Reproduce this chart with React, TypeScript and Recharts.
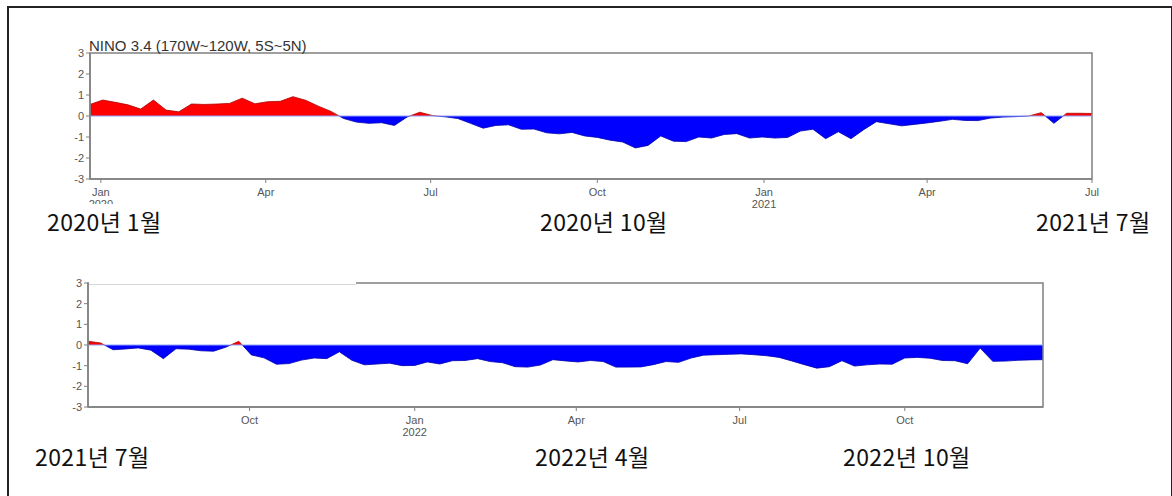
import { AreaChart, Area, XAxis, YAxis, ReferenceLine, ReferenceArea } from 'recharts';

const DAY = 86400000;
const WEEK = 7 * DAY;

// weekly Nino 3.4 anomalies, first panel starts 2019-12-26
const p1Start = Date.UTC(2019, 11, 26);
const p1Values = [
  0.55, 0.76, 0.65, 0.53, 0.33, 0.76, 0.28, 0.2, 0.57, 0.55,
  0.57, 0.6, 0.85, 0.58, 0.68, 0.7, 0.92, 0.75, 0.47, 0.22,
  -0.12, -0.29, -0.35, -0.32, -0.45, -0.05, 0.18, 0.02, -0.04, -0.12,
  -0.35, -0.58, -0.45, -0.42, -0.63, -0.62, -0.8, -0.85, -0.78, -0.95,
  -1.02, -1.15, -1.24, -1.52, -1.4, -0.95, -1.2, -1.22, -1.0, -1.05,
  -0.88, -0.84, -1.05, -1.0, -1.05, -1.02, -0.72, -0.63, -1.08, -0.75,
  -1.08, -0.65, -0.27, -0.37, -0.47, -0.4, -0.33, -0.25, -0.16, -0.21,
  -0.22, -0.1, -0.05, -0.03, 0.0, 0.16, -0.35, 0.13, 0.13, 0.12,
];

// second panel starts 2021-07-03
const p2Start = Date.UTC(2021, 6, 3);
const p2Values = [
  0.18, 0.1, -0.23, -0.19, -0.14, -0.25, -0.66, -0.18, -0.2, -0.28,
  -0.3, -0.1, 0.18, -0.48, -0.62, -0.93, -0.9, -0.73, -0.63, -0.66,
  -0.33, -0.74, -0.96, -0.92, -0.88, -1.0, -0.99, -0.82, -0.92, -0.76,
  -0.75, -0.66, -0.8, -0.86, -1.05, -1.07, -0.97, -0.71, -0.77, -0.82,
  -0.75, -0.8, -1.07, -1.07, -1.06, -0.95, -0.8, -0.84, -0.63, -0.49,
  -0.47, -0.45, -0.43, -0.47, -0.52, -0.6, -0.77, -0.95, -1.12, -1.05,
  -0.76, -1.02, -0.96, -0.92, -0.93, -0.63, -0.6, -0.64, -0.75, -0.76,
  -0.91, -0.15, -0.79, -0.78, -0.74, -0.72, -0.71,
];

const yTicks = [-3, -2, -1, 0, 1, 2, 3];
const p1Ticks = [
  Date.UTC(2020, 0, 1), Date.UTC(2020, 3, 1), Date.UTC(2020, 6, 1), Date.UTC(2020, 9, 1),
  Date.UTC(2021, 0, 1), Date.UTC(2021, 3, 1), Date.UTC(2021, 6, 1),
];
const p2Ticks = [
  Date.UTC(2021, 9, 1), Date.UTC(2022, 0, 1), Date.UTC(2022, 3, 1),
  Date.UTC(2022, 6, 1), Date.UTC(2022, 9, 1),
];
const MONTHS = ['Jan', 'Feb', 'Mar', 'Apr', 'May', 'Jun', 'Jul', 'Aug', 'Sep', 'Oct', 'Nov', 'Dec'];

const notes = [
  { text: '2020년 1월', left: 47, top: 210 },
  { text: '2020년 10월', left: 540, top: 210 },
  { text: '2021년 7월', left: 1036, top: 210 },
  { text: '2021년 7월', left: 35, top: 445 },
  { text: '2022년 4월', left: 535, top: 445 },
  { text: '2022년 10월', left: 843, top: 445 },
];

const tickFont = { fontSize: 11, fill: '#555', fontFamily: 'Liberation Sans, Arial, sans-serif' };
const axisColor = '#808080';

function DateTick(props: any) {
  const { x, y, payload } = props;
  const d = new Date(payload.value);
  const m = MONTHS[d.getUTCMonth()];
  return (
    <g>
      <text x={x} y={y} dy={11} textAnchor="middle" {...tickFont}>{m}</text>
      {m === 'Jan' && (
        <text x={x} y={y} dy={23} textAnchor="middle" {...tickFont}>{d.getUTCFullYear()}</text>
      )}
    </g>
  );
}

function Panel({ id, start, values, ticks, width, height, margin, yWidth }: any) {
  const data = values.map((v: number, i: number) => ({ t: start + i * WEEK, v }));
  const end = start + (values.length - 1) * WEEK;
  const max = Math.max(...values);
  const min = Math.min(...values);
  const off = max / (max - min);
  return (
    <AreaChart width={width} height={height} data={data} margin={margin}>
      <defs>
        <linearGradient id={`fill-${id}`} x1="0" y1="0" x2="0" y2="1">
          <stop offset={off} stopColor="#ff0000" />
          <stop offset={off} stopColor="#0000ff" />
        </linearGradient>
        <linearGradient id={`line-${id}`} x1="0" y1="0" x2="0" y2="1">
          <stop offset={off} stopColor="#b00000" />
          <stop offset={off} stopColor="#0000b0" />
        </linearGradient>
      </defs>
      <XAxis
        dataKey="t"
        type="number"
        domain={[start, end]}
        ticks={ticks}
        tick={<DateTick />}
        tickSize={4}
        tickMargin={2}
        height={30}
        axisLine={{ stroke: axisColor, strokeWidth: 1.5 }}
        tickLine={{ stroke: axisColor }}
        allowDataOverflow
      />
      <YAxis
        domain={[-3, 3]}
        ticks={yTicks}
        width={yWidth}
        tickSize={4}
        tickMargin={2}
        tick={tickFont}
        axisLine={{ stroke: axisColor, strokeWidth: 1.5 }}
        tickLine={{ stroke: axisColor }}
        allowDataOverflow
      />
      <ReferenceLine y={0} stroke="#8ea2ff" strokeWidth={1} />
      <Area
        type="linear"
        dataKey="v"
        baseValue={0}
        fill={`url(#fill-${id})`}
        fillOpacity={1}
        stroke={`url(#line-${id})`}
        strokeWidth={0.8}
        isAnimationActive={false}
      />
      <ReferenceArea x1={start} x2={end} y1={-3} y2={3} fill="none" stroke={axisColor} strokeWidth={1.5} />
    </AreaChart>
  );
}

export default function App() {
  return (
    <div style={{ position: 'fixed', left: 0, top: 0, width: 1172, height: 496, background: '#fff', overflow: 'hidden' }}>
      <div style={{ position: 'absolute', left: 7, top: 6, width: 1162, height: 500, border: '2px solid #222' }} />
      <div style={{ position: 'absolute', left: 0, top: 0 }}>
        <Panel
          id="a"
          start={p1Start}
          values={p1Values}
          ticks={p1Ticks}
          width={1172}
          height={230}
          margin={{ top: 53, right: 80, bottom: 21, left: 0 }}
          yWidth={90}
        />
      </div>
      <div style={{ position: 'absolute', left: 0, top: 240 }}>
        <Panel
          id="b"
          start={p2Start}
          values={p2Values}
          ticks={p2Ticks}
          width={1172}
          height={230}
          margin={{ top: 43, right: 129, bottom: 33, left: 0 }}
          yWidth={88}
        />
      </div>
      <div style={{ position: 'absolute', left: 89, top: 281, width: 267, height: 3, background: '#fff', borderBottom: '1px solid #d8d8d8' }} />
      <div style={{ position: 'absolute', left: 89, top: 37.5, fontSize: 15, lineHeight: '15px', color: '#333', fontFamily: 'Liberation Sans, Arial, sans-serif', whiteSpace: 'nowrap' }}>
        NINO 3.4 (170W~120W, 5S~5N)
      </div>
      {notes.map((n, i) => (
        <div
          key={i}
          style={{
            position: 'absolute',
            left: n.left - 4,
            top: n.top - 6,
            padding: '6px 4px 2px 4px',
            background: '#fff',
            fontSize: 23,
            lineHeight: '22px',
            letterSpacing: 0.4,
            color: '#111',
            fontFamily: '"Noto Sans CJK KR", "Noto Sans", sans-serif',
            whiteSpace: 'nowrap',
          }}
        >
          {n.text}
        </div>
      ))}
    </div>
  );
}
